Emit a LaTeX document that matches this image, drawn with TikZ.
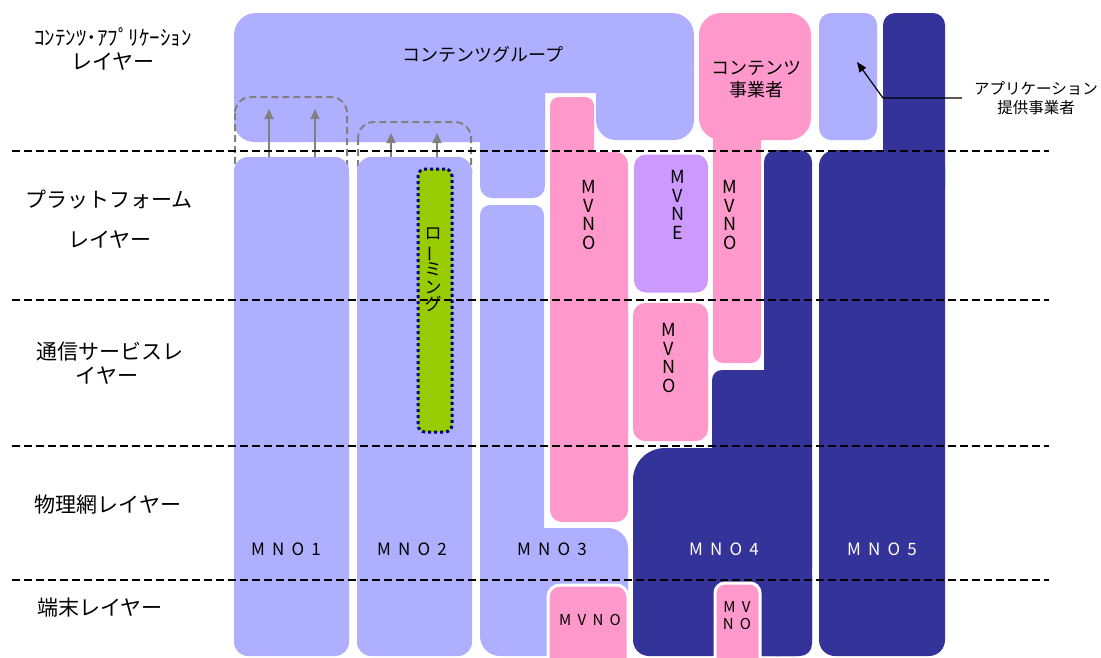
\documentclass[tikz,border=0pt]{standalone}
\usepackage{fontspec}
\usepackage{graphicx}
\setmainfont{Noto Sans CJK JP}
\usetikzlibrary{arrows.meta}
\definecolor{lblue}{RGB}{175,175,255}
\definecolor{pinkc}{RGB}{255,153,204}
\definecolor{purplec}{RGB}{204,153,255}
\definecolor{dblue}{RGB}{51,51,153}
\definecolor{greenc}{RGB}{153,204,0}
\definecolor{navyc}{RGB}{0,0,128}
\definecolor{grayc}{RGB}{128,128,128}
\newcommand\lsgap{\hspace{0.42em}}
\begin{document}
\begin{tikzpicture}[x=1pt,y=-1pt,
  lab/.style={font=\fontsize{21}{24}\selectfont, inner sep=0pt},
  mid/.style={font=\fontsize{18}{22}\selectfont, inner sep=0pt},
  vlab/.style={font=\fontsize{18}{18.7}\selectfont, align=center, inner sep=0pt},
  mnolab/.style={font=\fontsize{17}{20}\selectfont, inner sep=0pt},
  seprule/.style={black, line width=1.3pt, dash pattern=on 7.5pt off 4.5pt},
  ghost/.style={draw=grayc, line width=2pt, dash pattern=on 7pt off 4pt, rounded corners=16},
  uparrow/.style={draw=grayc, line width=2pt, -{Triangle[length=10pt,width=9pt]}},
  blk/.style={rectangle, inner sep=0pt, rounded corners=#1},
  blk/.default=10]
\useasboundingbox (0,0) rectangle (1101,657);
\clip (0,0) rectangle (1101,657);

% Contents group
\fill[lblue, rounded corners=22] (234,13) rectangle (694,93);
\fill[lblue, rounded corners=20] (234,50) rectangle (545,142);
\fill[lblue, rounded corners=12] (480,50) rectangle (545,198);
\fill[lblue, rounded corners=20] (596,50) rectangle (694,140);
\node[mid] (cg) at (483,55) {コンテンツグループ};

% ghost boxes
\draw[ghost] (235,97) rectangle (347,190);
\draw[ghost] (358,122) rectangle (471,190);

% contents provider
\fill[pinkc, rounded corners=22] (699,13) rectangle (811,140);
\fill[pinkc, rounded corners=10] (713,100) rectangle (761,363);
\node[mid, align=center] (cp) at (756,79) {コンテンツ\\事業者};
\node[vlab] (mvnos) at (730,215) {M\\V\\N\\O};

% application provider box
\node[blk=12, fill=lblue, minimum width=58, minimum height=127] (app) at (848,76.5) {};

% MNO5
\fill[dblue, rounded corners=12] (883,13) rectangle (945,200);
\fill[dblue, rounded corners=16] (819,150) rectangle (945,656);
\node[mnolab, text=white] (mno5) at (882,549) {M\lsgap N\lsgap O\lsgap 5};

% MNO4
\fill[dblue, rounded corners=12] (764,150) rectangle (812,656);
\fill[dblue, rounded corners=10] (712,370) rectangle (790,656);
\fill[dblue, rounded corners=32] (633,448) rectangle (812,600);
\fill[dblue, rounded corners=16] (633,560) rectangle (812,656);
\node[mnolab, text=white] (mno4) at (724,549) {M\lsgap N\lsgap O\lsgap 4};

% big MVNO
\fill[pinkc, rounded corners=9] (550,97) rectangle (594,180);
\fill[pinkc, rounded corners=12] (550,152) rectangle (628,522);
\node[vlab] (mvnob) at (589,215) {M\\V\\N\\O};

% MNO3
\fill[lblue, rounded corners=10] (480,205) rectangle (544,600);
\fill[lblue, rounded corners=20] (480,528) rectangle (628,656);
\node[mnolab] (mno3) at (552,549) {M\lsgap N\lsgap O\lsgap 3};

% MVNE and middle MVNO
\node[blk=12, fill=purplec, minimum width=74, minimum height=138] (mvne) at (671,223.5) {};
\node[vlab] (mvnel) at (678,205) {M\\V\\N\\E};
\node[blk=12, fill=pinkc, minimum width=75, minimum height=138] (mvnom) at (670.5,372) {};
\node[vlab] (mvnoml) at (669,358) {M\\V\\N\\O};

% bottom MVNOs
\node[blk=12, fill=pinkc, draw=white, line width=3pt, minimum width=80, minimum height=100] (mv3) at (588,635) {};
\node[font=\fontsize{15}{17}\selectfont, inner sep=0pt] (mv3l) at (590,620) {M\lsgap V\lsgap N\lsgap O};
\node[blk=10, fill=pinkc, draw=white, line width=3pt, minimum width=45, minimum height=90] (mv4) at (737.5,628) {};
\node[font=\fontsize{15}{17}\selectfont, align=center, inner sep=0pt] (mv4l) at (737,616) {M\lsgap V\\N\lsgap O};

% MNO1, MNO2
\node[blk=14, fill=lblue, minimum width=115, minimum height=499] (mno1) at (291.5,406.5) {};
\node[blk=14, fill=lblue, minimum width=115, minimum height=499] (mno2) at (414.5,406.5) {};
\node[mnolab] (mno1l) at (286,549) {M\lsgap N\lsgap O\lsgap 1};
\node[mnolab] (mno2l) at (412,549) {M\lsgap N\lsgap O\lsgap 2};

% arrows
\coordinate (g1a) at (269,109);
\coordinate (g1b) at (315,109);
\coordinate (g2a) at (391,133);
\coordinate (g2b) at (437,133);
\draw[uparrow] (mno1.north -| g1a) -- (g1a);
\draw[uparrow] (mno1.north -| g1b) -- (g1b);
\draw[uparrow] (mno2.north -| g2a) -- (g2a);
\draw[uparrow] (mno2.north -| g2b) -- (g2b);

% roaming
\node[blk=7, fill=greenc, draw=navyc, line width=3pt, dash pattern=on 3pt off 3pt, minimum width=34, minimum height=263] (roam) at (435,300.5) {};
\node[font=\fontsize{17}{17.3}\selectfont, align=center, inner sep=0pt] (roaml) at (433,270) {ロ\\\rotatebox[origin=c]{90}{ー}\\ミ\\ン\\グ};

% application provider label and arrow
\node[font=\fontsize{15.5}{19}\selectfont, align=center, inner ysep=0pt, inner xsep=12pt] (prov) at (1036,98) {アプリケーション\\提供事業者};
\coordinate (bend) at (883,97);
\coordinate (tip) at (857,62);
\draw[black, line width=1.2pt, -{Triangle[length=10pt,width=8pt]}] (prov.west) -- (prov.west -| bend) -- (tip);

% layer labels
\node[lab] (l1a) at (113,37) {ｺﾝﾃﾝﾂ･ｱﾌﾟﾘｹｰｼｮﾝ};
\node[lab] (l1b) at (113,62) {レイヤー};
\node[lab] (l2a) at (109,200) {プラットフォーム};
\node[lab] (l2b) at (110,240) {レイヤー};
\node[lab] (l3a) at (110,352) {通信サービスレ};
\node[lab] (l3b) at (107,376) {イヤー};
\node[lab] (l4) at (108,505) {物理網レイヤー};
\node[lab] (l5) at (100,608) {端末レイヤー};

% separators
\draw[seprule] (12,151) -- (1049,151);
\draw[seprule] (12,300) -- (1049,300);
\draw[seprule] (12,446) -- (1049,446);
\draw[seprule] (12,580) -- (1049,580);
\end{tikzpicture}
\end{document}
